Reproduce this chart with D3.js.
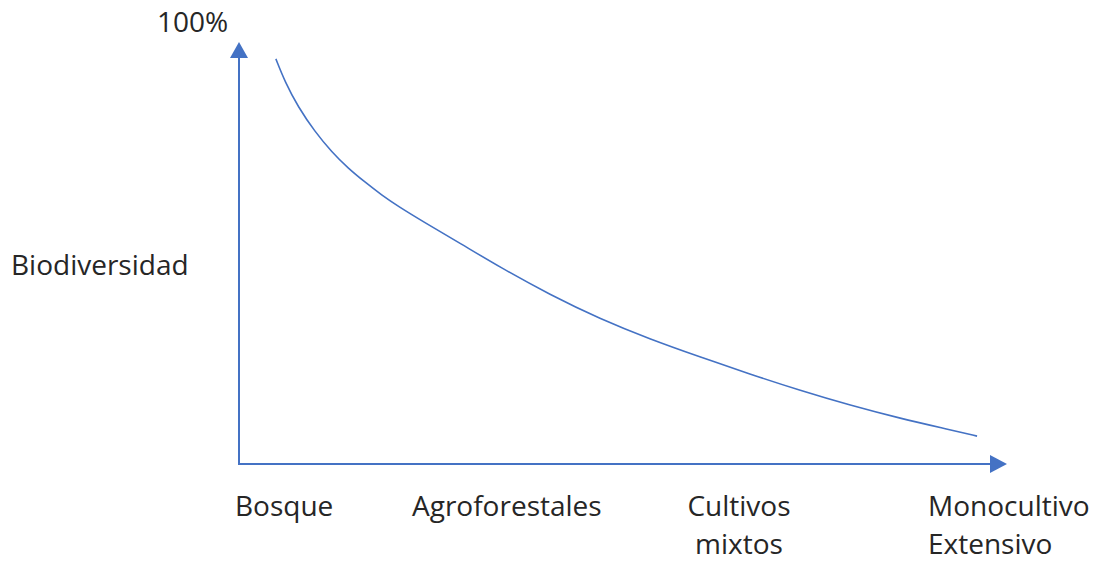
<!DOCTYPE html>
<html>
<head>
<meta charset="utf-8">
<script src="https://cdn.jsdelivr.net/npm/d3@7"></script>
<style>
  body { margin: 0; background: #fff; }
  text { font-family: "Open Sans", sans-serif; fill: #262626; }
</style>
</head>
<body>
<svg id="chart" width="1104" height="562"></svg>
<script>
// gradient position (0 = bosque, 100 = end of axis) and biodiversity %
var gradientPos = [4.8, 6.0, 7.7, 9.9, 12.1, 14.2, 16.4, 18.6, 20.7, 24.2, 28.8, 34.0, 40.5, 47.0, 53.5, 60.0, 66.5, 73.1, 79.6, 86.1, 92.6, 96.1];
var biodiversity = [96.0, 90.5, 84.6, 78.7, 73.9, 70.1, 66.8, 63.7, 61.1, 57.2, 52.3, 46.6, 40.1, 34.4, 29.6, 25.4, 21.3, 17.4, 13.9, 10.8, 8.1, 6.6];

var categories = [["Bosque"], ["Agroforestales"], ["Cultivos", "mixtos"], ["Monocultivo", "Extensivo"]];
var yTopLabel = "100%";
var yTitle = "Biodiversidad";

var blue = "#4472c4";
var svg = d3.select("#chart");

var x = d3.scaleLinear().domain([0, 100]).range([239, 1007]);
var y = d3.scaleLinear().domain([0, 100]).range([464, 42]);

// axes with arrowheads
svg.append("line")
  .attr("x1", x(0)).attr("y1", y(0) + 1)
  .attr("x2", x(0)).attr("y2", y(100) + 14)
  .attr("stroke", blue).attr("stroke-width", 2);
svg.append("path")
  .attr("d", "M" + x(0) + "," + y(100) + "L" + (x(0) - 9) + "," + (y(100) + 16) + "L" + (x(0) + 9) + "," + (y(100) + 16) + "Z")
  .attr("fill", blue);

svg.append("line")
  .attr("x1", x(0) - 1).attr("y1", y(0))
  .attr("x2", x(100) - 14).attr("y2", y(0))
  .attr("stroke", blue).attr("stroke-width", 2);
svg.append("path")
  .attr("d", "M" + x(100) + "," + y(0) + "L" + (x(100) - 17) + "," + (y(0) - 9) + "L" + (x(100) - 17) + "," + (y(0) + 9) + "Z")
  .attr("fill", blue);

// curve
var pts = gradientPos.map(function(d, i) { return [d, biodiversity[i]]; });
var line = d3.line()
  .x(function(d) { return x(d[0]); })
  .y(function(d) { return y(d[1]); })
  .curve(d3.curveBasis);
svg.append("path")
  .datum(pts)
  .attr("d", line)
  .attr("fill", "none")
  .attr("stroke", blue)
  .attr("stroke-width", 1.6);

// texts
svg.append("text").attr("x", 157).attr("y", 32).attr("font-size", 28).text(yTopLabel);
svg.append("text").attr("x", 11).attr("y", 275).attr("font-size", 28).text(yTitle);

var labelX = [235, 412, 739, 928];
var labelAnchor = ["start", "start", "middle", "start"];
categories.forEach(function(lines, i) {
  var t = svg.append("text")
    .attr("x", labelX[i])
    .attr("y", 516)
    .attr("font-size", 28)
    .attr("text-anchor", labelAnchor[i]);
  lines.forEach(function(s, j) {
    t.append("tspan").attr("x", labelX[i]).attr("dy", j === 0 ? 0 : 38).text(s);
  });
});
</script>
</body>
</html>
